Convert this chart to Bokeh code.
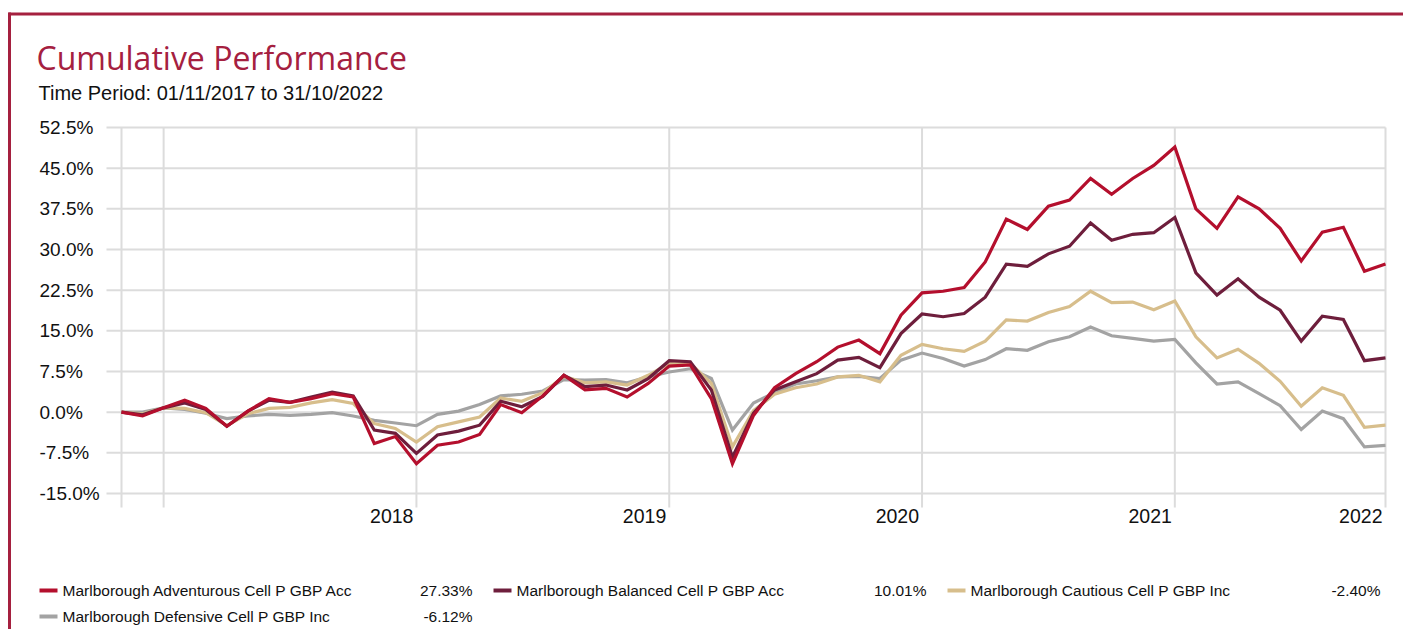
import pandas as pd
from bokeh.plotting import figure
from bokeh.models import Range1d, ColumnDataSource
from bokeh.core.properties import value
from bokeh.embed import file_html
from bokeh.resources import INLINE

# ---------------- data ----------------
months = pd.period_range("2017-10", "2022-10", freq="M").strftime("%Y-%m").tolist()

names = [
    "Marlborough Adventurous Cell P GBP Acc",
    "Marlborough Balanced Cell P GBP Acc",
    "Marlborough Cautious Cell P GBP Inc",
    "Marlborough Defensive Cell P GBP Inc",
]

adventurous = [0.0, -0.7, 0.8, 2.2, 0.7, -2.6, 0.2, 2.5, 1.8, 2.5,
               3.4, 2.8, -5.8, -4.5, -9.5, -6.1, -5.5, -4.1, 1.4, -0.1,
               3.0, 6.8, 4.1, 4.4, 2.8, 5.3, 8.5, 8.7, 2.5, -9.5,
               -0.6, 4.5, 7.1, 9.3, 12.0, 13.3, 10.8, 17.9, 22.0, 22.3,
               23.0, 27.7, 35.6, 33.7, 38.0, 39.1, 43.1, 40.2, 43.1, 45.5,
               48.9, 37.5, 33.9, 39.7, 37.5, 33.9, 27.9, 33.2, 34.1, 26.0,
               27.33]
balanced = [0.0, -0.5, 0.8, 1.7, 0.5, -2.6, 0.2, 2.2, 1.8, 2.8,
            3.7, 3.0, -3.3, -3.9, -7.6, -4.2, -3.5, -2.4, 2.0, 1.0,
            2.9, 6.8, 4.7, 5.0, 4.1, 6.2, 9.5, 9.3, 4.1, -8.3,
            -0.2, 4.1, 5.6, 7.1, 9.6, 10.1, 8.2, 14.5, 18.1, 17.6,
            18.2, 21.2, 27.3, 26.9, 29.2, 30.6, 34.9, 31.7, 32.8, 33.1,
            35.9, 25.7, 21.6, 24.6, 21.2, 18.8, 13.1, 17.7, 17.1, 9.5,
            10.01]
cautious = [0.0, -0.3, 0.8, 0.7, -0.1, -2.5, -0.3, 0.7, 0.9, 1.7,
            2.3, 1.6, -2.1, -3.0, -5.5, -2.7, -1.8, -0.9, 2.6, 2.0,
            3.6, 6.6, 5.4, 5.6, 5.0, 6.8, 9.0, 9.0, 5.3, -6.4,
            0.3, 3.3, 4.5, 5.2, 6.5, 6.8, 5.6, 10.5, 12.5, 11.7,
            11.2, 13.1, 17.0, 16.8, 18.4, 19.5, 22.3, 20.2, 20.3, 18.9,
            20.5, 13.9, 10.0, 11.6, 9.0, 5.7, 1.1, 4.5, 3.1, -2.8,
            -2.40]
defensive = [0.0, 0.0, 0.8, 0.5, -0.2, -1.2, -0.7, -0.4, -0.6, -0.4,
             -0.1, -0.7, -1.5, -2.0, -2.5, -0.4, 0.2, 1.4, 3.0, 3.3,
             3.9, 6.0, 5.9, 6.0, 5.4, 6.5, 7.4, 8.0, 6.2, -3.3,
             1.7, 3.6, 5.2, 5.8, 6.5, 6.6, 6.2, 9.6, 10.9, 9.9,
             8.5, 9.7, 11.7, 11.4, 13.0, 13.9, 15.7, 14.1, 13.6, 13.1,
             13.4, 9.1, 5.2, 5.6, 3.4, 1.2, -3.2, 0.2, -1.2, -6.4,
             -6.12]

series = [adventurous, balanced, cautious, defensive]
colors = ["#b40f2d", "#6e1e3c", "#d7be8c", "#a3a3a3"]

y_ticks = [-15.0, -7.5, 0.0, 7.5, 15.0, 22.5, 30.0, 37.5, 45.0, 52.5]
y_tick_labels = ["-15.0%", "-7.5%", "0.0%", "7.5%", "15.0%", "22.5%", "30.0%", "37.5%", "45.0%", "52.5%"]

x_tick_months = ["2017-10", "2017-12", "2018-12", "2019-12", "2020-12", "2021-12", "2022-10"]
x_label_months = ["2018-12", "2019-12", "2020-12", "2021-12", "2022-10"]
x_tick_labels = ["2018", "2019", "2020", "2021", "2022"]

# ---------------- layout constants (page pixels) ----------------
W, H = 1403, 629
FL, FR, FT, FB = 121, 1385, 127, 493          # plot area edges
BRAND = "#a5203f"
GRID = "#dcdcdc"
FONT = "Liberation Sans"
TXT = "#111111"

x_idx = list(range(len(months)))
x0d, x1d = 0, len(months) - 1
y0d, y1d = y_ticks[0], y_ticks[-1]


def fx(px):
    """page x pixel -> data x"""
    return x0d + (px - FL) * (x1d - x0d) / (FR - FL)


def fy(py):
    """page y pixel -> data y"""
    return y1d - (py - FT) * (y1d - y0d) / (FB - FT)


# the scales span the whole canvas; the plot area is the data window inside it
p = figure(width=W, height=H,
           x_range=Range1d(fx(0), fx(W)), y_range=Range1d(fy(H), fy(0)),
           output_backend="svg", toolbar_location=None,
           x_axis_type=None, y_axis_type=None,
           min_border=0, min_border_left=0, min_border_right=0, min_border_top=0, min_border_bottom=0)
p.outline_line_color = None
p.background_fill_color = "white"
p.border_fill_color = "white"

# ---------------- grid + ticks ----------------
x_tick_pos = [months.index(m) for m in x_tick_months]
p.segment(x0=[fx(FL - 15)] * len(y_ticks), y0=y_ticks, x1=[x1d] * len(y_ticks), y1=y_ticks,
          line_color=GRID, line_width=2)
p.segment(x0=x_tick_pos, y0=[fy(FB + 14)] * len(x_tick_pos), x1=x_tick_pos, y1=[y1d] * len(x_tick_pos),
          line_color=GRID, line_width=2)

# ---------------- series ----------------
for vals, col in reversed(list(zip(series, colors))):
    p.line(x_idx, vals, line_color=col, line_width=3.2, line_join="miter")

# ---------------- tick labels ----------------
p.text(x=[fx(39)] * len(y_ticks), y=y_ticks, text=y_tick_labels,
       text_font=value(FONT), text_font_size=value("19px"), text_color=TXT,
       text_align="left", text_baseline="middle")
p.text(x=[months.index(m) for m in x_label_months], y=[fy(515)] * len(x_label_months), text=x_tick_labels,
       x_offset=-3, text_font=value(FONT), text_font_size=value("19.5px"), text_color=TXT,
       text_align="right", text_baseline="middle")

# ---------------- panel border ----------------
p.segment(x0=[fx(8)], y0=[fy(13.5)], x1=[fx(W + 5)], y1=[fy(13.5)], line_color=BRAND, line_width=3)
p.segment(x0=[fx(9)], y0=[fy(12)], x1=[fx(9)], y1=[fy(H + 5)], line_color=BRAND, line_width=3)

# ---------------- title + subtitle ----------------
p.text(x=[fx(36)], y=[fy(57)], text=["Cumulative Performance"], text_font=value("Open Sans"),
       text_font_size=value("32px"), text_color=BRAND, text_baseline="alphabetic")
p.text(x=[fx(38)], y=[fy(92.5)], text=["Time Period: 01/11/2017 to 31/10/2022"],
       text_font=value(FONT), text_font_size=value("20px"), text_color=TXT, text_baseline="alphabetic")

# ---------------- legend ----------------
col_x = [40, 494, 948]
row_y = [590, 616]
pos = [(0, 0), (0, 1), (0, 2), (1, 0)]
finals = [f"{s[-1]:.2f}%" for s in series]
lx = [col_x[c] for r, c in pos]
ly = [row_y[r] for r, c in pos]
legsrc = ColumnDataSource(dict(
    y=[fy(v) for v in ly], x0=[fx(v - 1) for v in lx], x1=[fx(v + 17) for v in lx],
    tx=[fx(v + 22) for v in lx], vx=[fx(v + 432) for v in lx],
    name=names, val=finals, color=colors))
p.segment(x0="x0", y0="y", x1="x1", y1="y", line_color="color", line_width=4, source=legsrc)
p.text(x="tx", y="y", text="name", source=legsrc,
       text_font=value(FONT), text_font_size=value("15.5px"), text_color=TXT,
       text_align="left", text_baseline="middle")
p.text(x="vx", y="y", text="val", source=legsrc,
       text_font=value(FONT), text_font_size=value("15.5px"), text_color=TXT,
       text_align="right", text_baseline="middle")

open("out.html", "w").write(file_html(p, INLINE))
